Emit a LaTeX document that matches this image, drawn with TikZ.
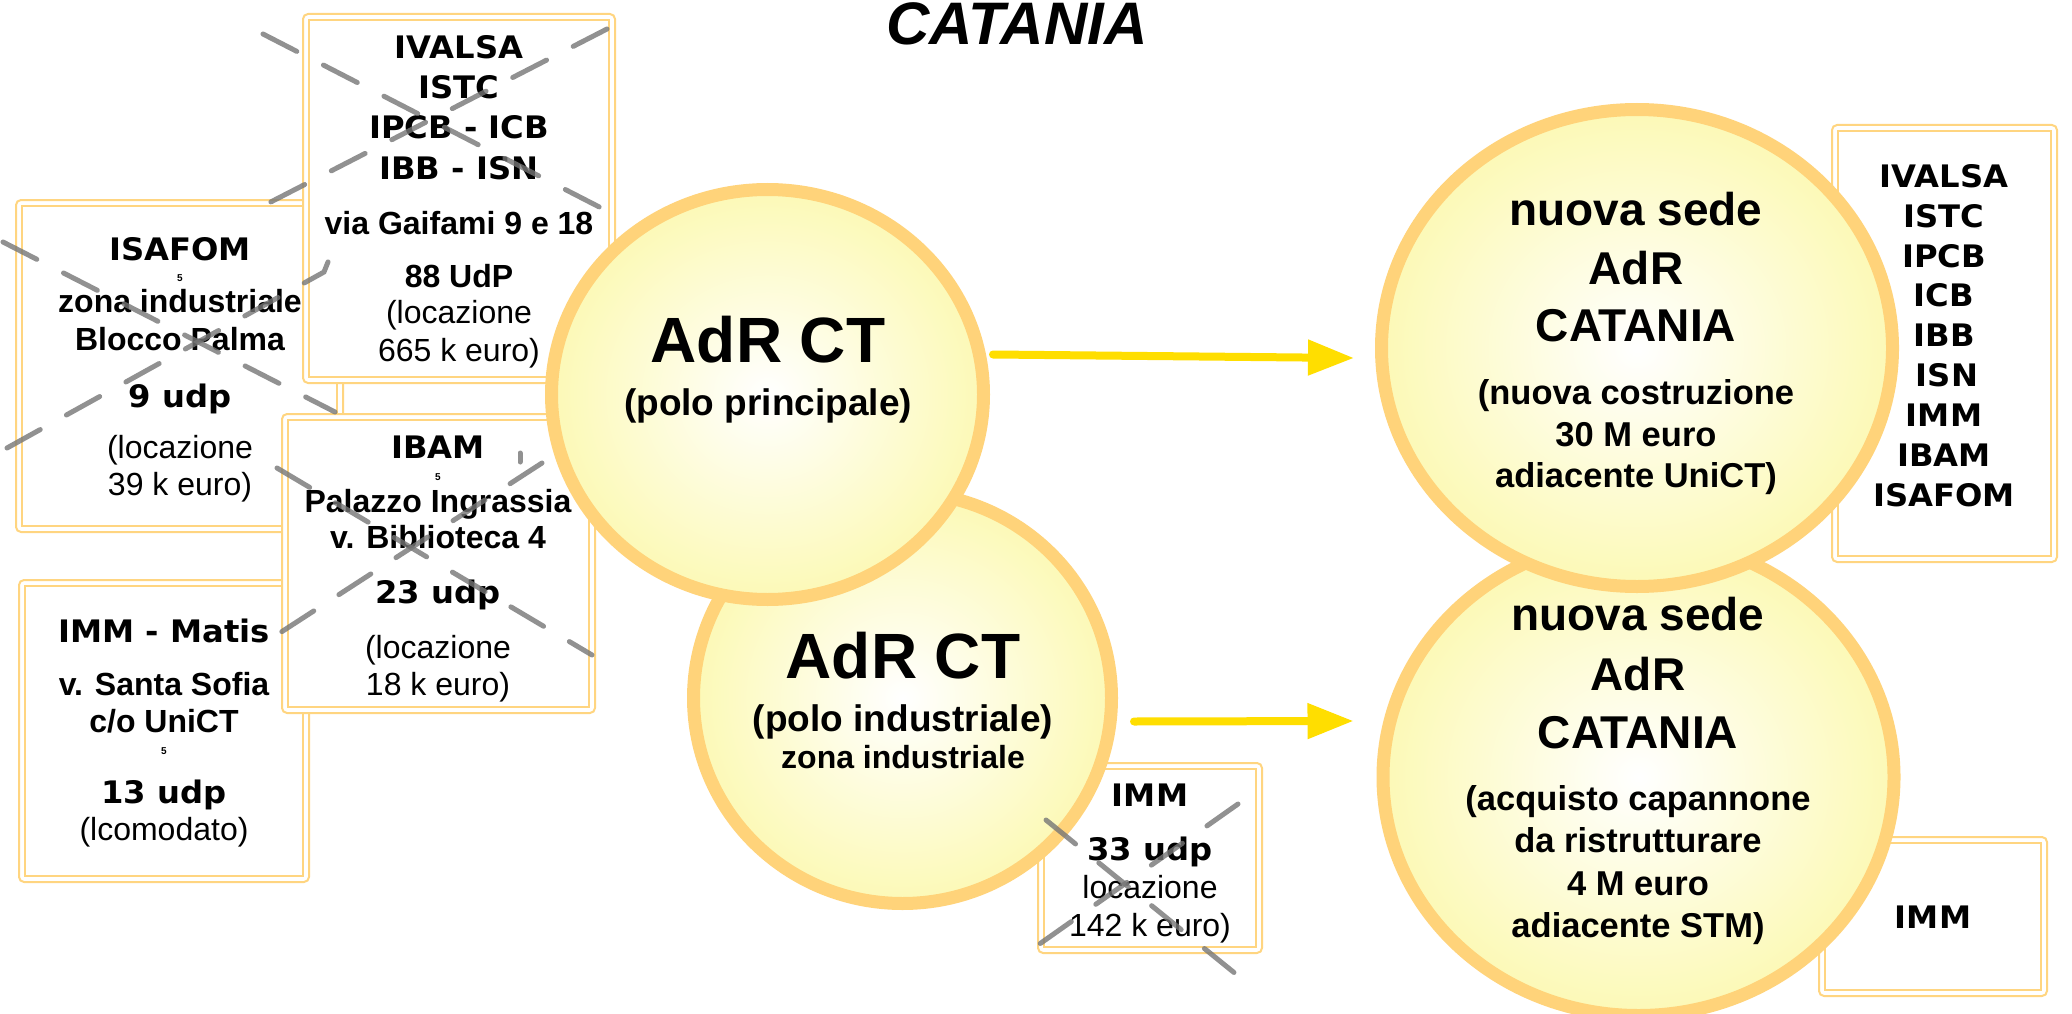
\documentclass[tikz,border=0pt]{standalone}
\usepackage{fontspec}
\setmainfont{Liberation Sans}
\newfontfamily\vfont{DejaVu Sans}[FakeStretch=1.04]
\usetikzlibrary{shapes.geometric,arrows.meta}
\definecolor{boxc}{RGB}{255,213,128}
\definecolor{circc}{RGB}{255,211,122}
\definecolor{circy}{RGB}{252,249,182}
\definecolor{arrc}{RGB}{255,222,0}
\definecolor{xgray}{RGB}{118,118,118}
\newcommand\mybox[5]{%
  \node[boxs, minimum width={#4-#2}, minimum height={#5-#3}] (#1) at ({(#2+#4)/2},{(#3+#5)/2}) {};
  \draw[inbox] ([shift={(7,7)}]#1.north west) rectangle ([shift={(-7,-7)}]#1.south east);
}
\begin{document}
\begin{tikzpicture}[x=1pt,y=-1pt,
  boxs/.style={rectangle, draw=boxc, line width=2pt, rounded corners=5pt, fill=white, inner sep=0pt},
  inbox/.style={draw=boxc, line width=2pt},
  circ/.style={ellipse, draw=circc, line width=13pt, inner color=white, outer color=circy, inner sep=0pt},
  vt/.style={font=\vfont\bfseries\fontsize{31}{31}\selectfont, anchor=base, inner sep=0pt},
  ab/.style={font=\bfseries\fontsize{32}{32}\selectfont, anchor=base, inner sep=0pt},
  ar/.style={font=\fontsize{32}{32}\selectfont, anchor=base, inner sep=0pt},
  tinyt/.style={font=\bfseries\fontsize{10}{10}\selectfont, anchor=base, inner sep=0pt},
  bigt/.style={font=\bfseries\fontsize{64}{64}\selectfont, anchor=base, inner sep=0pt},
  subt/.style={font=\bfseries\fontsize{37}{37}\selectfont, anchor=base, inner sep=0pt},
  rtt/.style={font=\bfseries\fontsize{46}{46}\selectfont, anchor=base, inner sep=0pt},
  rst/.style={font=\bfseries\fontsize{34.5}{34.5}\selectfont, anchor=base, inner sep=0pt},
  arr/.style={draw=arrc, line width=8pt, line cap=round, -{Triangle[width=34pt,length=46pt]}},
  xl/.style={draw=xgray, line width=5pt, line cap=round, dash pattern=on 38pt off 30pt, opacity=0.8},
]
\useasboundingbox (0,0) rectangle (2072,1014);
\fill[white] (0,0) rectangle (2072,1014);

% title
\node[font=\bfseries\itshape\fontsize{60}{60}\selectfont, anchor=base, inner sep=0pt] (title) at (1017,45) {CATANIA};

% ISAFOM box
\mybox{isafom}{16}{200}{343}{532}
\node[vt] (sa1) at (180,260) {ISAFOM};
\node[tinyt] (sa2) at (180,281) {5};
\node[ab] (sa3) at (180,312) {zona industriale};
\node[ab] (sa4) at (180,350) {Blocco Palma};
\node[vt] (sa5) at (180,407) {9 udp};
\node[ar] (sa6) at (180,458) {(locazione};
\node[ar] (sa7) at (180,495) {39 k euro)};

% IVALSA box
\mybox{ivalsa}{303}{14}{615}{383}
\node[vt] (iv1) at (459,59) {IVALSA};
\node[vt] (iv2) at (459,99) {ISTC};
\node[vt] (iv3) at (459,139) {IPCB - ICB};
\node[vt] (iv4) at (459,179) {IBB - ISN};
\node[ab] (iv5) at (459,234) {via Gaifami 9 e 18};
\node[ab] (iv6) at (459,287) {88 UdP};
\node[ar] (iv7) at (459,323) {(locazione};
\node[ar] (iv8) at (459,361) {665 k euro)};

% IMM - Matis box
\mybox{matis}{19}{580}{309}{882}
\node[vt] (ma1) at (164,642) {IMM - Matis};
\node[ab] (ma2) at (164,695) {v. Santa Sofia};
\node[ab] (ma3) at (164,732) {c/o UniCT};
\node[tinyt] (ma4) at (164,754) {5};
\node[vt] (ma5) at (164,803) {13 udp};
\node[ar] (ma6) at (164,840) {(lcomodato)};

% IBAM box
\mybox{ibam}{282}{414}{595}{713}
\node[vt] (ib1) at (438,458) {IBAM};
\node[tinyt] (ib2) at (438,480) {5};
\node[ab] (ib3) at (438,512) {Palazzo Ingrassia};
\node[ab] (ib4) at (438,548) {v. Biblioteca 4};
\node[vt] (ib5) at (438,603) {23 udp};
\node[ar] (ib6) at (438,658) {(locazione};
\node[ar] (ib7) at (438,695) {18 k euro)};

% IMM small box
\mybox{immc}{1038}{763}{1262}{953}
\node[vt] (ic1) at (1150,806) {IMM};
\node[vt] (ic2) at (1150,860) {33 udp};
\node[ar] (ic3) at (1150,898) {locazione};
\node[ar] (ic4) at (1150,936) {142 k euro)};

% circles left
\node[circ, minimum width=418, minimum height=411] (c2) at (902.5,698) {};
\node[bigt] (c2a) at (903,678) {AdR CT};
\node[subt] (c2b) at (903,731) {(polo industriale)};
\node[ab] (c2c) at (903,768) {zona industriale};

\node[circ, minimum width=432, minimum height=410] (c1) at (767.5,394.5) {};
\node[bigt] (c1a) at (768,362) {AdR CT};
\node[subt] (c1b) at (768,415) {(polo principale)};

% right boxes
\mybox{rlist}{1832}{125}{2057}{562}
\node[vt] (rl1) at (1944,187) {IVALSA};
\node[vt] (rl2) at (1944,227) {ISTC};
\node[vt] (rl3) at (1944,267) {IPCB};
\node[vt] (rl4) at (1944,306) {ICB};
\node[vt] (rl5) at (1944,346) {IBB};
\node[vt] (rl6) at (1947,386) {ISN};
\node[vt] (rl7) at (1944,426) {IMM};
\node[vt] (rl8) at (1944,466) {IBAM};
\node[vt] (rl9) at (1944,506) {ISAFOM};

\mybox{rimm}{1819}{837}{2047}{996}
\node[vt] (ri1) at (1933,928) {IMM};

% right circles
\node[circ, minimum width=511, minimum height=477] (r2) at (1638.5,777) {};
\node[rtt] (r2a) at (1638,630) {nuova sede};
\node[rtt] (r2b) at (1638,690) {AdR};
\node[rtt] (r2c) at (1638,748) {CATANIA};
\node[rst] (r2d) at (1638,810) {(acquisto capannone};
\node[rst] (r2e) at (1638,852) {da ristrutturare};
\node[rst] (r2f) at (1638,895) {4 M euro};
\node[rst] (r2g) at (1638,937) {adiacente STM)};

\node[circ, minimum width=511, minimum height=477] (r1) at (1637,348) {};
\node[rtt] (r1a) at (1636,225) {nuova sede};
\node[rtt] (r1b) at (1636,284) {AdR};
\node[rtt] (r1c) at (1636,341) {CATANIA};
\node[rst] (r1d) at (1636,404) {(nuova costruzione};
\node[rst] (r1e) at (1636,446) {30 M euro};
\node[rst] (r1f) at (1636,487) {adiacente UniCT)};

% arrows
\path (c1.east) ++(3,-40) coordinate (a1s);
\path (r1.west) ++(-21,10) coordinate (a1e);
\draw[arr] (a1s) -- (a1e);
\path (c2.east) ++(16,23.5) coordinate (a2s);
\path (r2.west) ++(-23,-56) coordinate (a2e);
\draw[arr] (a2s) -- (a2e);

% crossing-out lines
\draw[xl] (263,34) -- (609,212);
\draw[xl] (607,29) -- (261,207);
\draw[xl] (3,242) -- (335,412);
\draw[xl] (7,448) -- (324,272) -- (328,262);
\draw[xl] (277,468) -- (592,655);
\draw[xl] (520,453) -- (520,462);
\draw[xl] (542,463) -- (272,638);
\draw[xl] (1046,820) -- (1242,979);
\draw[xl] (1238,804) -- (1031,950);
\end{tikzpicture}
\end{document}
